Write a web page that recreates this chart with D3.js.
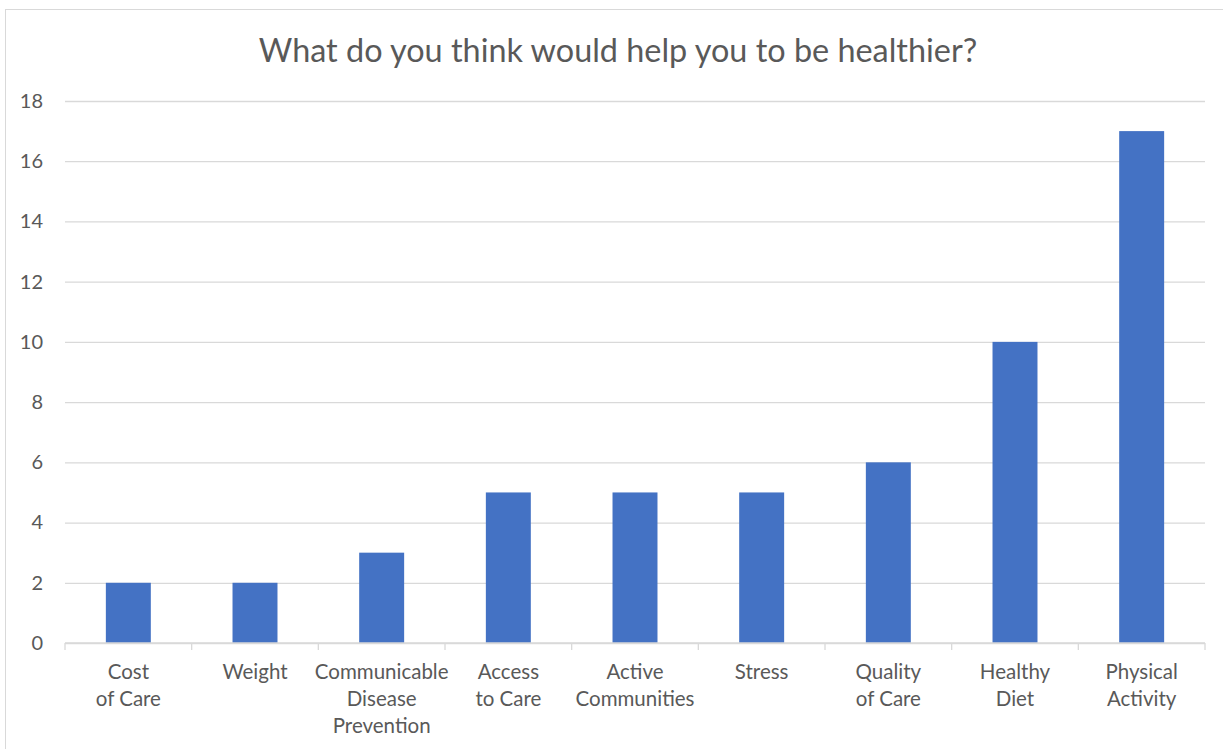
<!DOCTYPE html>
<html><head><meta charset="utf-8">
<script src="https://cdn.jsdelivr.net/npm/d3@7"></script>
<style>body{margin:0;background:#fff}svg{display:block}</style>
</head><body>
<svg id="c" width="1223" height="749"></svg>
<script>
const categories = [["Cost","of Care"],["Weight"],["Communicable","Disease","Prevention"],["Access","to Care"],["Active","Communities"],["Stress"],["Quality","of Care"],["Healthy","Diet"],["Physical","Activity"]];
const values = [2,2,3,5,5,5,6,10,17];
const yTicks = [0,2,4,6,8,10,12,14,16,18];
const title = "What do you think would help you to be healthier?";

const svg = d3.select("#c");
const font = "Lato, 'Open Sans', sans-serif";
const txt = "#595959", grid = "#d9d9d9";

svg.append("rect").attr("x",5.5).attr("y",9.5).attr("width",1230).attr("height",760)
  .attr("fill","none").attr("stroke","#d9d9d9");

const L=65, R=1205, T=101, B=643;
const x = d3.scaleBand().domain(d3.range(values.length)).range([L,R]).paddingInner(0.645).paddingOuter(0.3225);
const xb = d3.scaleBand().domain(d3.range(values.length)).range([L,R]);
const y = d3.scaleLinear().domain([0,18]).range([B,T]);

svg.append("text").attr("x",618).attr("y",62).attr("text-anchor","middle")
  .attr("font-family",font).attr("font-size",32.4).attr("fill",txt).text(title);

const ya = svg.append("g").attr("transform",`translate(${L},0)`)
  .call(d3.axisLeft(y).tickValues(yTicks).tickSize(-(R-L)).tickPadding(22));
ya.select(".domain").remove();
ya.selectAll(".tick line").attr("stroke",grid).attr("stroke-width",1.3);
ya.selectAll(".tick text").attr("font-family",font).attr("font-size",20).attr("fill",txt);

svg.append("g").selectAll("rect").data(values).join("rect")
  .attr("x",(d,i)=>x(i)).attr("width",x.bandwidth())
  .attr("y",d=>y(d)).attr("height",d=>B-y(d)).attr("fill","#4472C4");

const xa = svg.append("g").attr("transform",`translate(0,${B})`);
xa.append("line").attr("x1",L).attr("x2",R).attr("stroke",grid).attr("stroke-width",1.3);
xa.selectAll("line.t").data(d3.range(values.length+1)).join("line").attr("class","t")
  .attr("x1",i=>L+i*xb.step()).attr("x2",i=>L+i*xb.step()).attr("y1",0).attr("y2",7)
  .attr("stroke",grid).attr("stroke-width",1.3);
const lab = xa.selectAll("text").data(categories).join("text")
  .attr("text-anchor","middle").attr("font-family",font).attr("font-size",20.5).attr("fill",txt)
  .attr("transform",(d,i)=>`translate(${xb(i)+xb.bandwidth()/2},0)`);
lab.selectAll("tspan").data(d=>d).join("tspan").attr("x",0).attr("y",(d,j)=>36+j*27).text(d=>d);
</script>
</body></html>
